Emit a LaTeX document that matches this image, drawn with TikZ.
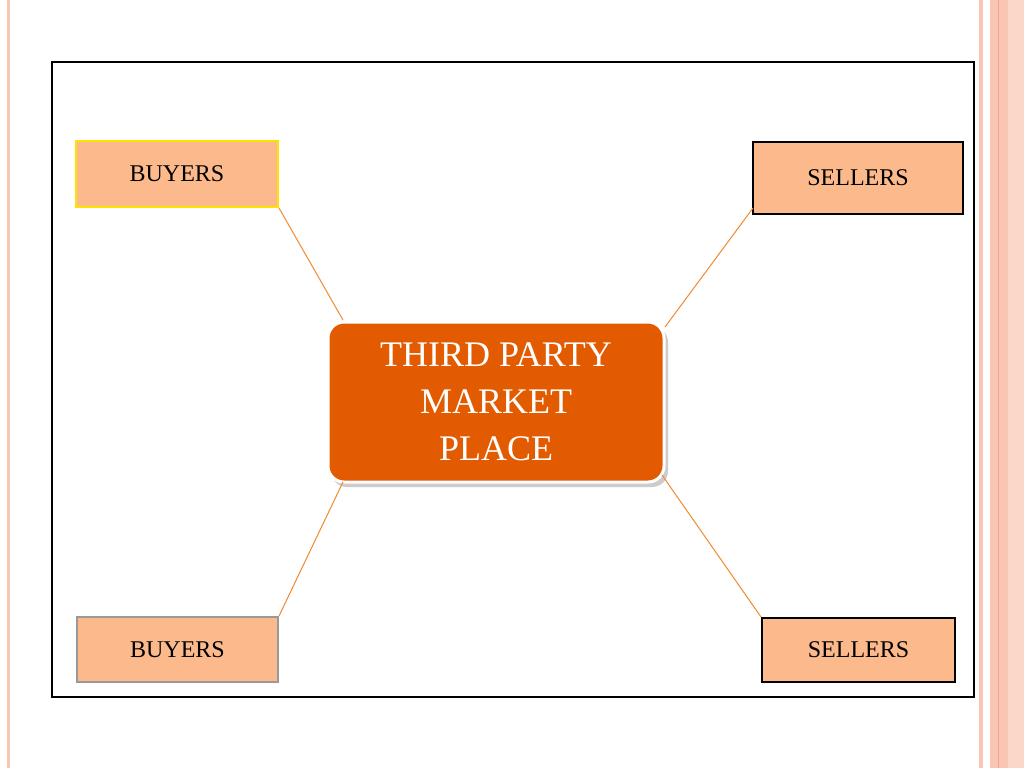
\documentclass[tikz,border=0pt]{standalone}
\usepackage{fontspec}
\setmainfont{Liberation Serif}
\begin{document}
\begin{tikzpicture}[x=1pt,y=-1pt,
 sbox/.style={draw,line width=2pt,fill=boxfill,inner sep=0pt,font=\fontsize{24}{28}\selectfont},
 link/.style={draw=linkc,line width=1pt}]
\definecolor{boxfill}{HTML}{FBB98C}
\definecolor{stripe}{HTML}{F9C6B4}
\definecolor{stripe2}{HTML}{F3A98C}
\definecolor{linkc}{HTML}{F08A30}
\definecolor{centerc}{HTML}{E35B00}
\useasboundingbox (0,0) rectangle (1024,768);
\fill[white] (0,0) rectangle (1024,768);
\fill[stripe] (979,0) rectangle (983,768);
\fill[stripe] (990,0) rectangle (1024,768);
\fill[stripe2] (997.5,0) rectangle (999,768);
\fill[stripe!70!white] (1008,0) rectangle (1024,768);
\fill[stripe] (7,0) rectangle (10,768);
\draw[line width=2pt] (52,62) rectangle (974,697);
\node[sbox,draw=yellow!85!orange,minimum width=202pt,minimum height=66pt] (b1) at (177,174) {BUYERS};
\node[sbox,minimum width=210pt,minimum height=72pt] (s1) at (858,178) {SELLERS};
\node[sbox,draw=gray!80,minimum width=201pt,minimum height=65pt] (b2) at (177.5,649.5) {BUYERS};
\node[sbox,minimum width=193pt,minimum height=64pt] (s2) at (858.5,650) {SELLERS};
\fill[gray!40,rounded corners=16pt] (331,326) rectangle (668,487);
\node[draw=white,line width=3pt,fill=centerc,rounded corners=16pt,minimum width=336pt,minimum height=160pt,text=white,align=center,font=\fontsize{36}{47}\selectfont] (c) at (496,402) {THIRD PARTY\\MARKET\\PLACE};
\draw[link] (b1.south east) -- (343,320);
\draw[link] (753,208) -- (665,327);
\draw[link] (343,482) -- (b2.north east);
\draw[link] (662,475) -- (s2.north west);
\end{tikzpicture}
\end{document}
